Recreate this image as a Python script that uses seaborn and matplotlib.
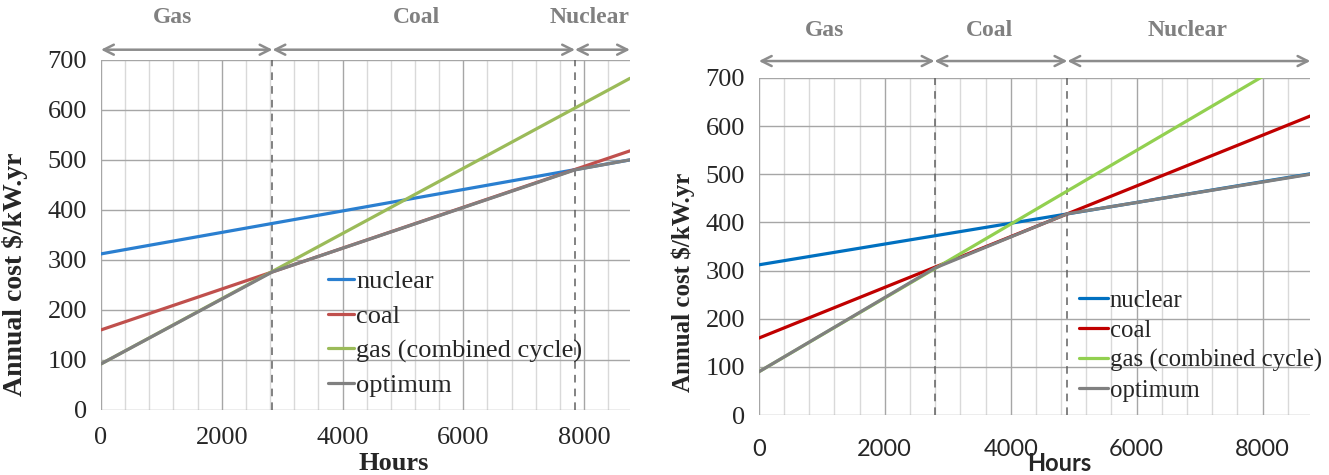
import numpy as np
import pandas as pd
import matplotlib
matplotlib.use("Agg")
import matplotlib.pyplot as plt
from matplotlib.ticker import MultipleLocator
import seaborn as sns

sns.set_style("white")
plt.rcParams['font.family'] = ['Liberation Serif', 'DejaVu Serif']

# data (annual cost in $/kW.yr against hours of use)
hours_ends = [0, 8760]

left_nuclear = [312, 500]
left_coal = [160, 518]
left_gas = [92, 663]
left_opt_hours = [0, 2840, 7850, 8760]
left_opt = [92, 276, 480, 500]
left_regions = [0, 2840, 7850, 8760]
left_region_labels = ["Gas", "Coal", "Nuclear"]
left_label_x = [1190, 5230, 8090]

right_nuclear = [312, 501]
right_coal = [160, 621]
right_gas = [90, 761]
right_opt_hours = [0, 2790, 4900, 8760]
right_opt = [90, 305, 418, 500]
right_regions = [0, 2790, 4900, 8760]
right_region_labels = ["Gas", "Coal", "Nuclear"]
right_label_x = [1050, 3660, 6810]

series_names = ["nuclear", "coal", "gas (combined cycle)", "optimum"]
left_colors = ["#2a7fd0", "#c0504d", "#9bbb59", "#808080"]
right_colors = ["#0070c0", "#c00000", "#92d050", "#808080"]


def make_frame(nuc, coal, gas, opt_h, opt):
    parts = []
    for name, xs, ys in [(series_names[0], hours_ends, nuc),
                         (series_names[1], hours_ends, coal),
                         (series_names[2], hours_ends, gas),
                         (series_names[3], opt_h, opt)]:
        parts.append(pd.DataFrame({"Hours": xs, "cost": ys, "series": name}))
    return pd.concat(parts, ignore_index=True)


def draw_panel(ax, df, colors, regions, region_labels, label_x,
               arrow_y, text_y, legend_anchor, legend_size, spacing, hl,
               xpad):
    pal = dict(zip(series_names, colors))
    sns.lineplot(data=df, x="Hours", y="cost", hue="series", palette=pal,
                 hue_order=series_names, estimator=None, sort=False,
                 linewidth=2.3, ax=ax, zorder=3)
    ax.set_xlim(0, 8760)
    ax.set_ylim(0, 700)
    ax.xaxis.set_major_locator(MultipleLocator(2000))
    ax.xaxis.set_minor_locator(MultipleLocator(400))
    ax.yaxis.set_major_locator(MultipleLocator(100))
    ax.grid(which="major", axis="x", color="#a6a6a6", lw=1.0)
    ax.grid(which="minor", axis="x", color="#d9d9d9", lw=1.0)
    ax.grid(which="major", axis="y", color="#a6a6a6", lw=1.0)
    ax.set_axisbelow(True)
    for s in ax.spines.values():
        s.set_visible(False)
    ax.tick_params(which="major", length=4, color="#a6a6a6", labelsize=19,
                   pad=6)
    ax.tick_params(axis="x", which="major", pad=xpad)
    ax.tick_params(which="minor", length=0)
    ax.set_xlabel("")
    ax.set_ylabel("")

    for x in regions[1:-1]:
        ax.axvline(x, color="#606060", lw=1.1, ls=(0, (5, 4)), zorder=2)

    tr = ax.get_xaxis_transform()
    for a, b in zip(regions[:-1], regions[1:]):
        ax.annotate("", xy=(b, arrow_y), xytext=(a, arrow_y), xycoords=tr,
                    textcoords=tr, annotation_clip=False,
                    arrowprops=dict(arrowstyle="<->", color="#8c8c8c", lw=1.8,
                                    shrinkA=0, shrinkB=0,
                                    mutation_scale=18))
    for lab, x in zip(region_labels, label_x):
        ax.text(x, text_y, lab, transform=tr, ha="center", va="center",
                color="#808080", fontweight="bold", fontsize=17)

    handles, labels = ax.get_legend_handles_labels()
    ax.legend(handles, labels, loc="upper left", bbox_to_anchor=legend_anchor,
              frameon=False, fontsize=legend_size, handlelength=hl,
              handletextpad=0.08, labelspacing=spacing, borderaxespad=0,
              borderpad=0)


fig = plt.figure(figsize=(13.29, 4.75), dpi=100)
ax1 = fig.add_axes([0.076, 0.137, 0.398, 0.737])
ax2 = fig.add_axes([0.571, 0.126, 0.415, 0.710])

df_left = make_frame(left_nuclear, left_coal, left_gas, left_opt_hours, left_opt)
df_right = make_frame(right_nuclear, right_coal, right_gas, right_opt_hours, right_opt)

draw_panel(ax1, df_left, left_colors, left_regions, left_region_labels,
           left_label_x, 1.029, 1.12, (0.429, 0.40), 19, 0.42, 1.0, 8)
draw_panel(ax2, df_right, right_colors, right_regions, right_region_labels,
           right_label_x, 1.05, 1.142, (0.581, 0.372), 17.8, 0.3, 1.15, 13)

# right panel uses a sans face on the x axis
for t in ax2.get_xticklabels():
    t.set_fontfamily("Lato")
    t.set_fontsize(17)

fig.text(0.011, 0.423, "Annual cost $/kW.yr", rotation=90, ha="center",
         va="center", fontsize=20, fontweight="bold")
fig.text(0.296, 0.025, "Hours", ha="center", va="center", fontsize=19,
         fontweight="bold")
fig.text(0.514, 0.406, "Annual cost $/kW.yr", rotation=90, ha="center",
         va="center", fontsize=18, fontweight="bold")
fig.text(0.797, 0.0, "Hours", ha="center", va="bottom", fontsize=17,
         fontweight="bold", family="Lato")

fig.savefig("out.png", dpi=100)
